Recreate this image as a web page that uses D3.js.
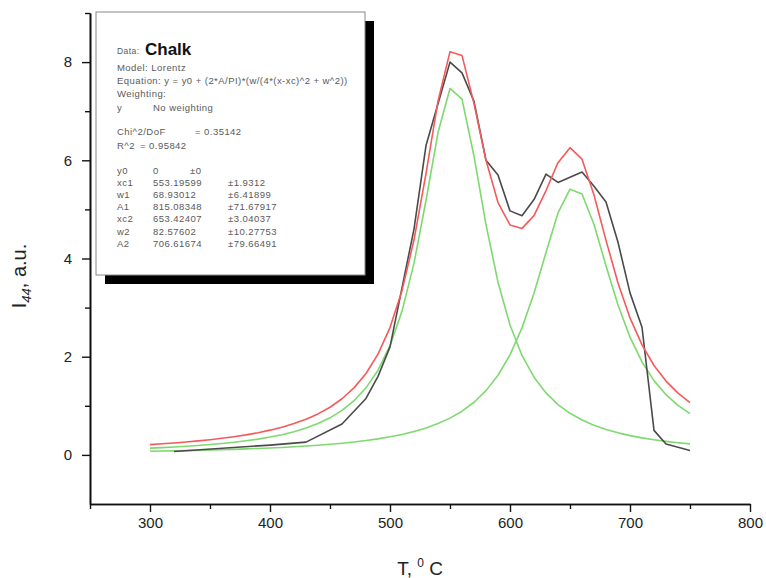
<!DOCTYPE html>
<html>
<head>
<meta charset="utf-8">
<script src="https://cdn.jsdelivr.net/npm/d3@7"></script>
<style>
  body { margin: 0; background: #fff; }
  svg { display: block; font-family: Arial, "Liberation Sans", sans-serif; }
</style>
</head>
<body>
<div id="vis"></div>
<script>
// fit curves sampled every 10 deg C
var fitT = [300,310,320,330,340,350,360,370,380,390,400,410,420,430,440,450,460,470,480,490,
            500,510,520,530,540,550,560,570,580,590,600,610,620,630,640,650,660,670,680,690,
            700,710,720,730,740,750];
var peak1 = [0.137,0.148,0.161,0.175,0.192,0.211,0.232,0.257,0.287,0.321,0.363,0.412,0.472,0.546,0.639,0.755,0.906,1.103,1.366,1.725,
             2.225,2.928,3.905,5.181,6.565,7.464,7.246,6.083,4.691,3.518,2.647,2.026,1.583,1.262,1.025,0.847,0.710,0.603,0.518,0.449,
             0.393,0.347,0.308,0.276,0.248,0.224];
var peak2 = [0.073,0.078,0.082,0.087,0.093,0.099,0.106,0.113,0.122,0.131,0.141,0.152,0.165,0.180,0.197,0.216,0.237,0.263,0.292,0.327,
             0.368,0.417,0.476,0.548,0.638,0.749,0.890,1.072,1.309,1.622,2.037,2.587,3.291,4.122,4.927,5.411,5.313,4.691,3.852,3.052,
             2.397,1.893,1.513,1.227,1.009,0.842];
var fitSum = [0.210,0.226,0.243,0.263,0.285,0.310,0.338,0.371,0.408,0.452,0.504,0.565,0.638,0.726,0.835,0.971,1.143,1.365,1.658,2.052,
              2.593,3.345,4.381,5.729,7.203,8.213,8.136,7.155,6.000,5.140,4.684,4.613,4.874,5.384,5.952,6.258,6.023,5.294,4.370,3.501,
              2.790,2.240,1.821,1.503,1.257,1.066];
// measured data
var dataT = [320,400,430,460,480,490,500,510,520,530,540,550,560,570,580,590,600,610,620,630,
             640,660,670,680,690,700,710,720,730,750];
var dataI = [0.07,0.2,0.26,0.63,1.15,1.6,2.2,3.4,4.6,6.3,7.15,8.0,7.78,7.2,6.0,5.7,4.97,4.87,5.2,5.72,
             5.55,5.76,5.47,5.15,4.33,3.3,2.6,0.5,0.22,0.09];

var xMajor = [300,400,500,600,700,800];
var xMinor = [250,350,450,550,650,750];
var yMajor = [0,2,4,6,8];
var yMinor = [1,3,5,7,9];

var boxHead = [["Model: Lorentz"],
               ["Equation: y = y0 + (2*A/PI)*(w/(4*(x-xc)^2 + w^2))"],
               ["Weighting:"],
               ["y", "No weighting"]];
var fitStats = [["Chi^2/DoF", "= 0.35142"], ["R^2", "= 0.95842"]];
var params = [["y0","0","\u00b10"],
              ["xc1","553.19599","\u00b11.9312"],
              ["w1","68.93012","\u00b16.41899"],
              ["A1","815.08348","\u00b171.67917"],
              ["xc2","653.42407","\u00b13.04037"],
              ["w2","82.57602","\u00b110.27753"],
              ["A2","706.61674","\u00b179.66491"]];

var W = 766, H = 578;
var svg = d3.select("#vis").append("svg").attr("width", W).attr("height", H);

var x = d3.scaleLinear().domain([250, 800]).range([90, 750]);
var y = d3.scaleLinear().domain([-1, 9]).range([504, 13]);

function styleAxis(g) {
  g.select(".domain").attr("stroke", "#111").attr("stroke-width", 1.6);
  g.selectAll(".tick line").attr("stroke", "#111").attr("stroke-width", 1.4);
  g.selectAll(".tick text").attr("fill", "#222").style("font-size", "15px");
}

// x axis
svg.append("g").attr("transform", "translate(0,504)")
  .call(d3.axisBottom(x).tickValues(xMinor).tickFormat("").tickSize(5).tickSizeOuter(0))
  .call(styleAxis);
svg.append("g").attr("transform", "translate(0,504)")
  .call(d3.axisBottom(x).tickValues(xMajor).tickFormat(d3.format("d")).tickSize(8).tickSizeOuter(0).tickPadding(5))
  .call(styleAxis);
// y axis
svg.append("g").attr("transform", "translate(90,0)")
  .call(d3.axisLeft(y).tickValues(yMinor).tickFormat("").tickSize(5).tickSizeOuter(0))
  .call(styleAxis);
svg.append("g").attr("transform", "translate(90,0)")
  .call(d3.axisLeft(y).tickValues(yMajor).tickFormat(d3.format("d")).tickSize(8).tickSizeOuter(0).tickPadding(10))
  .call(styleAxis);

// axis titles
var yl = svg.append("text")
  .attr("transform", "translate(26,276) rotate(-90)")
  .attr("text-anchor", "middle")
  .attr("fill", "#222").style("font-size", "20px");
yl.append("tspan").text("I");
yl.append("tspan").attr("dy", 5).style("font-size", "13px").style("font-style", "italic").text("44");
yl.append("tspan").attr("dy", -5).text(", a.u.");

var xl = svg.append("text")
  .attr("x", 420).attr("y", 575)
  .attr("text-anchor", "middle")
  .attr("fill", "#222").style("font-size", "19px");
xl.append("tspan").text("T, ");
xl.append("tspan").attr("dy", -8).style("font-size", "12px").text("0");
xl.append("tspan").attr("dy", 8).text(" C");

// curves
var line = d3.line();
function drawCurve(ts, vs, color, w) {
  svg.append("path")
    .attr("d", line(ts.map(function(t, i) { return [x(t), y(vs[i])]; })))
    .attr("fill", "none")
    .attr("stroke", color)
    .attr("stroke-width", w)
    .attr("stroke-linejoin", "round");
}
drawCurve(fitT, peak1, "#7ed96f", 1.6);
drawCurve(fitT, peak2, "#7ed96f", 1.6);
drawCurve(dataT, dataI, "#4a4a4a", 1.6);
drawCurve(fitT, fitSum, "#f55a5a", 1.6);

// results box
var bx = 96, by = 12, bw = 269, bh = 263;
svg.append("rect").attr("x", bx + 9).attr("y", by + 9).attr("width", bw).attr("height", bh).attr("fill", "#000");
svg.append("rect").attr("x", bx).attr("y", by).attr("width", bw).attr("height", bh)
  .attr("fill", "#fff").attr("stroke", "#888").attr("stroke-width", 1);

var tx = 117;
var box = svg.append("g").attr("fill", "#5a5a5a").style("font-size", "9.5px").style("letter-spacing", "0.45px");
box.append("text").attr("x", tx).attr("y", 54).style("font-size", "8.5px").text("Data:");
box.append("text").attr("x", 145).attr("y", 55).attr("fill", "#111").style("letter-spacing", "0px")
  .style("font-size", "17px").style("font-weight", "bold").text("Chalk");

boxHead.forEach(function(r, i) {
  var yy = 71 + i * 13.2;
  box.append("text").attr("x", tx).attr("y", yy).text(r[0]);
  if (r[1]) box.append("text").attr("x", 153).attr("y", yy).text(r[1]);
});
fitStats.forEach(function(r, i) {
  var yy = 135 + i * 14;
  box.append("text").attr("x", tx).attr("y", yy).text(r[0]);
  box.append("text").attr("x", i === 0 ? 195 : 140).attr("y", yy).text(r[1]);
});
params.forEach(function(r, i) {
  var yy = 174 + i * 12.1;
  box.append("text").attr("x", tx).attr("y", yy).text(r[0]);
  box.append("text").attr("x", 153).attr("y", yy).text(r[1]);
  box.append("text").attr("x", i === 0 ? 190 : 228).attr("y", yy).text(r[2]);
});
</script>
</body>
</html>
